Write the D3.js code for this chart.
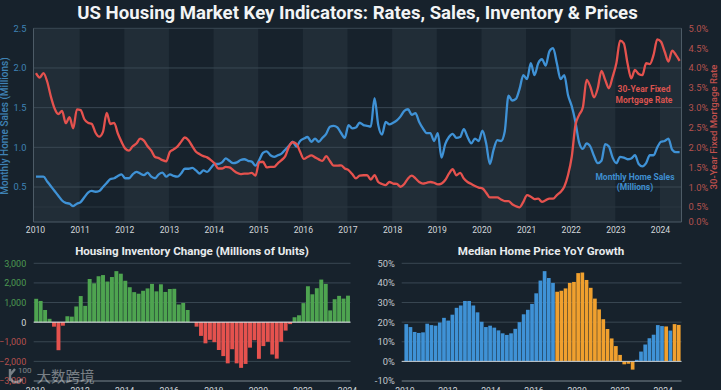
<!DOCTYPE html>
<html>
<head>
<meta charset="utf-8">
<title>US Housing Market Key Indicators</title>
<script src="https://d3js.org/d3.v7.min.js"></script>
<style>
    html, body { margin: 0; padding: 0; width: 721px; height: 390px; overflow: hidden; background: #17222c; }
    svg { display: block; }
    svg text { font-family: Roboto, sans-serif; }
    svg text.cjk { font-family: "Noto Sans CJK SC", sans-serif; }
    .tick line, .domain { display: none; }
</style>
</head>
<body>
<svg id="chart" width="721" height="390"></svg>
<script>
// monthly, Jan 2010 to mid 2024
const homeSales = [
    0.63,0.63,0.63,0.57,0.51,0.45,0.39,0.33,0.30,0.29,0.26,0.29,
    0.31,0.37,0.43,0.45,0.44,0.45,0.50,0.55,0.60,0.61,0.64,0.66,
    0.61,0.61,0.66,0.69,0.67,0.65,0.68,0.63,0.61,0.66,0.68,0.63,
    0.66,0.64,0.63,0.67,0.73,0.73,0.74,0.71,0.67,0.71,0.69,0.74,
    0.79,0.79,0.81,0.86,0.83,0.80,0.81,0.84,0.85,0.83,0.82,0.77,
    0.84,0.93,0.95,0.90,0.88,0.90,0.92,0.97,1.02,1.07,1.01,1.08,
    1.11,1.13,1.07,1.11,1.07,1.12,1.17,1.26,1.27,1.25,1.18,1.12,
    1.28,1.24,1.25,1.31,1.28,1.27,1.26,1.62,1.28,1.16,1.32,1.29,
    1.31,1.34,1.39,1.46,1.48,1.41,1.43,1.32,1.24,1.18,1.18,1.08,
    1.18,0.87,1.04,1.13,1.17,1.12,1.13,1.23,1.13,1.05,1.11,1.08,
    1.21,1.05,0.79,0.97,1.09,1.08,1.20,1.65,1.59,1.61,1.74,1.91,
    1.86,2.06,1.91,2.06,2.11,2.03,2.21,2.25,2.06,1.86,1.91,1.66,
    1.52,1.32,1.06,0.98,1.05,1.01,0.89,0.80,0.83,1.04,1.01,0.87,
    0.80,0.88,0.87,0.85,0.86,0.90,0.79,0.76,0.80,0.90,0.90,1.00,
    1.07,1.08,1.11,0.97,0.94,0.94
];
const mortgageRate = [
    3.87,3.76,3.87,3.66,3.28,2.98,2.84,2.92,2.61,2.76,2.48,2.96,
    2.94,2.71,2.62,2.59,2.37,2.27,2.39,2.87,2.59,2.62,2.35,2.14,
    1.97,1.92,2.03,2.10,2.22,2.17,2.03,1.92,1.76,1.73,1.68,1.65,
    1.89,1.95,2.02,2.14,2.25,2.18,2.03,1.89,1.83,1.78,1.75,1.68,
    1.60,1.47,1.47,1.51,1.50,1.43,1.36,1.33,1.34,1.34,1.36,1.29,
    1.63,1.64,1.50,1.51,1.51,1.60,1.68,1.78,2.02,2.13,2.09,1.89,
    1.71,1.76,1.80,1.75,1.70,1.66,1.78,1.66,1.54,1.54,1.55,1.47,
    1.43,1.33,1.22,1.29,1.30,1.30,1.19,1.30,1.13,1.08,1.05,1.13,
    1.09,1.08,1.01,1.08,1.22,1.29,1.22,1.13,1.09,1.11,1.13,1.11,
    1.07,1.09,1.18,1.34,1.45,1.30,1.36,1.22,1.13,1.08,1.03,0.99,
    0.97,0.86,0.74,0.74,0.74,0.69,0.65,0.65,0.57,0.52,0.49,0.63,
    0.80,0.76,0.70,0.71,0.63,0.67,0.71,0.71,0.80,0.88,1.01,1.30,
    1.76,2.56,2.82,3.01,3.70,3.53,3.26,3.49,3.93,3.70,3.49,3.78,
    4.12,4.69,4.62,4.12,3.74,3.95,3.85,3.82,4.12,4.10,4.33,4.72,
    4.66,4.41,4.16,4.44,4.33,4.18
];
const topYears = ["2010","2011","2012","2013","2014","2015","2016","2017","2018","2019","2020","2021","2022","2023","2024"];
const salesTicks = [0.5, 1.0, 1.5, 2.0, 2.5];
const rateTicks = [0, 0.5, 1, 1.5, 2, 2.5, 3, 3.5, 4, 4.5, 5];

const inventoryChange = [
    1190,1080,620,170,-230,-1430,-180,300,280,800,1330,830,2200,1980,2340,2400,2070,2300,2600,2470,
    2110,1780,1530,1450,1600,1720,1950,1570,1930,1540,1690,1700,900,980,620,0,-230,-700,-1080,-900,
    -1020,-1420,-1730,-2100,-1380,-2100,-2330,-2130,-1300,-920,-1870,-1220,-1000,-1650,-1860,-1000,-430,-100,250,350,
    970,1830,1420,1730,2170,1950,600,1170,1340,1200,1350
];
const inventoryYears = ["2010","2012","2014","2016","2018","2020","2022","2024"];
const inventoryTicks = [-3000, -2000, -1000, 0, 1000, 2000, 3000];

const priceGrowth = [
    19,17.5,15,14.5,14.8,19.2,18.5,18.2,19.8,22.2,20.8,23.8,27.3,28.5,30.8,30.8,28.5,25,20.2,17.5,
    18.2,17.2,15.8,14.3,13.5,14.3,16.6,20,24,26.3,29.3,34.7,41.2,46,42.5,40,
    35.5,36,37.2,40,40.5,45,45.3,41.5,37.5,32,26.5,21.5,16.5,11.7,7.8,3.3,-1.5,-1.2,-4.2,
    0.8,5,8.6,11.8,13.6,18.5,18,17.8,15.7,19,18.6
];
const priceGroup = [
    0,0,0,0,0,0,0,0,0,0,0,0,0,0,0,0,0,0,0,0,0,0,0,0,0,0,0,0,0,0,0,0,0,0,0,0,
    1,1,1,1,1,1,1,1,1,1,1,1,1,1,1,1,1,1,1,
    0,0,0,0,0,0,0,1,0,1,1
];
const priceYears = ["2010","2012","2014","2016","2020","2022","2024"];
const priceTicks = [-10, 0, 10, 20, 30, 40, 50];

const BG_BAND = "#212d37";
const GRID = "#3a4853";
const EDGE = "#4d5b66";
const BLUE = "#3f92d6";
const RED = "#e5524e";
const GREEN = "#4ea450";
const ORANGE = "#f0a02e";

const svg = d3.select("#chart");

svg.append("text")
    .attr("x", 357.5).attr("y", 19)
    .attr("text-anchor", "middle")
    .attr("fill", "#f2f4f5")
    .attr("font-size", 18.6)
    .attr("font-weight", 700)
    .text("US Housing Market Key Indicators: Rates, Sales, Inventory & Prices");

//top chart
const main = { left: 33.5, right: 681.5, top: 28.3, bottom: 222 };
const xMonth = d3.scaleLinear().domain([0, 12 * 14]).range([36, 661]);
const xYear = d3.scalePoint().domain(topYears).range([35, 660]);
const ySales = d3.scaleLinear().domain([0.5, 2.5]).range([187, main.top]);
// the 0% label sits closer to 0.5% than the rest of the axis spacing
const yRate = d3.scaleLinear().domain([0, 0.5, 5]).range([main.bottom, 207, main.top]);

// alternating year bands
const bandEdges = topYears.map((d, i) => i === 0 ? main.left : xYear(d)).concat([main.right]);
svg.append("g").selectAll("rect")
    .data(topYears.filter((d, i) => i % 2 === 0))
    .join("rect")
    .attr("x", d => bandEdges[topYears.indexOf(d)])
    .attr("y", main.top)
    .attr("width", d => bandEdges[topYears.indexOf(d) + 1] - bandEdges[topYears.indexOf(d)])
    .attr("height", main.bottom - main.top)
    .attr("fill", BG_BAND);

svg.append("g").selectAll("line")
    .data(salesTicks)
    .join("line")
    .attr("x1", main.left).attr("x2", main.right)
    .attr("y1", d => ySales(d)).attr("y2", d => ySales(d))
    .attr("stroke", GRID).attr("stroke-width", 1);

svg.append("line")
    .attr("x1", main.left).attr("x2", main.right)
    .attr("y1", yRate(0.5)).attr("y2", yRate(0.5))
    .attr("stroke", "#2a3640");

svg.append("path")
    .attr("d", `M${main.left},${main.top}V${main.bottom}H${main.right}V${main.top}`)
    .attr("fill", "none")
    .attr("stroke", EDGE);

const salesLine = d3.line()
    .x((d, i) => xMonth(i))
    .y(d => ySales(d))
    .curve(d3.curveMonotoneX);
const rateLine = d3.line()
    .x((d, i) => xMonth(i))
    .y(d => yRate(d))
    .curve(d3.curveMonotoneX);

svg.append("path").datum(homeSales)
    .attr("d", salesLine)
    .attr("fill", "none").attr("stroke", BLUE).attr("stroke-width", 2.3);
svg.append("path").datum(mortgageRate)
    .attr("d", rateLine)
    .attr("fill", "none").attr("stroke", RED).attr("stroke-width", 2.3);

const styleAxis = (g, color, size) => {
    g.selectAll("text").attr("fill", color).attr("font-size", size);
};

svg.append("g")
    .attr("transform", `translate(${main.left},0)`)
    .call(d3.axisLeft(ySales).tickValues(salesTicks).tickFormat(d3.format(".1f")).tickSize(0).tickPadding(7))
    .call(styleAxis, "#3f82b5", 9.3);

svg.append("g")
    .attr("transform", `translate(${main.right},0)`)
    .call(d3.axisRight(yRate).tickValues(rateTicks).tickFormat(d => d.toFixed(1) + "%").tickSize(0).tickPadding(7))
    .call(styleAxis, "#b5524f", 9.3);

svg.append("g")
    .attr("transform", `translate(0,${main.bottom})`)
    .call(d3.axisBottom(xYear).tickSize(0).tickPadding(5))
    .call(styleAxis, "#d4d8db", 8.6);

svg.append("text")
    .attr("transform", "translate(8,126) rotate(-90)")
    .attr("text-anchor", "middle")
    .attr("fill", "#3f82b5").attr("font-size", 10).attr("font-weight", 500)
    .text("Monthly Home Sales (Millions)");

svg.append("text")
    .attr("transform", "translate(717,127) rotate(-90)")
    .attr("text-anchor", "middle")
    .attr("fill", "#c2504c").attr("font-size", 9.6).attr("font-weight", 500)
    .text("30-Year Fixed Mortgage Rate");

// in-chart labels
const note = (lines, x, y, color) => {
    svg.append("g").selectAll("text")
        .data(lines)
        .join("text")
        .attr("x", x)
        .attr("y", (d, i) => y + i * 10.7)
        .attr("text-anchor", "middle")
        .attr("fill", color)
        .attr("font-size", 8.5).attr("font-weight", 700)
        .text(d => d);
};
note(["30-Year Fixed", "Mortgage Rate"], 644, 92.3, "#d9534f");
note(["Monthly Home Sales", "(Millions)"], 635, 179.7, "#3f8fd0");

//inventory chart
const inv = { left: 33.7, right: 350.5, top: 263.3, bottom: 381 };
const xInv = d3.scaleBand().domain(d3.range(inventoryChange.length)).range([inv.left, inv.right]).padding(0.12);
const xInvYear = d3.scalePoint().domain(inventoryYears).range([35, 347]);
const yInv = d3.scaleLinear().domain([-3000, 3000]).range([inv.bottom, inv.top]);

svg.append("g").selectAll("line")
    .data(inventoryTicks)
    .join("line")
    .attr("x1", inv.left).attr("x2", inv.right)
    .attr("y1", d => yInv(d)).attr("y2", d => yInv(d))
    .attr("stroke", d => d === -3000 ? "#7a858d" : GRID);

svg.append("g").selectAll("rect")
    .data(inventoryChange)
    .join("rect")
    .attr("x", (d, i) => xInv(i))
    .attr("width", xInv.bandwidth())
    .attr("y", d => yInv(Math.max(d, 0)))
    .attr("height", d => Math.abs(yInv(d) - yInv(0)))
    .attr("fill", d => d >= 0 ? GREEN : RED);

svg.append("line")
    .attr("x1", inv.left).attr("x2", inv.right)
    .attr("y1", yInv(0)).attr("y2", yInv(0))
    .attr("stroke", "#e6e9eb").attr("stroke-width", 1);

svg.append("g")
    .attr("transform", `translate(${inv.left},0)`)
    .call(d3.axisLeft(yInv).tickValues(inventoryTicks).tickFormat(d3.format(",")).tickSize(0).tickPadding(7.5))
    .call(g => g.selectAll("text")
        .attr("font-size", 9)
        .attr("fill", d => d > 0 ? "#4c9a52" : d < 0 ? "#b4504e" : "#d4d8db"));

svg.append("g")
    .attr("transform", `translate(0,${inv.bottom})`)
    .call(d3.axisBottom(xInvYear).tickSize(0).tickPadding(7))
    .call(styleAxis, "#d4d8db", 8.6);

svg.append("text")
    .attr("x", 192).attr("y", 255)
    .attr("text-anchor", "middle")
    .attr("fill", "#e8ebed").attr("font-size", 11.6).attr("font-weight", 700)
    .text("Housing Inventory Change (Millions of Units)");

//price chart
const price = { left: 401.7, right: 681.5, top: 263.3, bottom: 381 };
const xPrice = d3.scaleBand().domain(d3.range(priceGrowth.length)).range([403.9, 681.1]).padding(0.12);
const xPriceYear = d3.scalePoint().domain(priceYears).range([404.3, 662.7]);
const yPrice = d3.scaleLinear().domain([-10, 50]).range([price.bottom, price.top]);

svg.append("g").selectAll("line")
    .data(priceTicks)
    .join("line")
    .attr("x1", price.left).attr("x2", price.right)
    .attr("y1", d => yPrice(d)).attr("y2", d => yPrice(d))
    .attr("stroke", d => d === -10 ? "#7a858d" : GRID);

svg.append("g").selectAll("rect")
    .data(priceGrowth)
    .join("rect")
    .attr("x", (d, i) => xPrice(i))
    .attr("width", xPrice.bandwidth())
    .attr("y", d => yPrice(Math.max(d, 0)))
    .attr("height", d => Math.abs(yPrice(d) - yPrice(0)))
    .attr("fill", (d, i) => priceGroup[i] ? ORANGE : BLUE);

svg.append("line")
    .attr("x1", price.left).attr("x2", price.right)
    .attr("y1", yPrice(0)).attr("y2", yPrice(0))
    .attr("stroke", "#c5ccd1").attr("stroke-width", 1);

svg.append("g")
    .attr("transform", `translate(${price.left},0)`)
    .call(d3.axisLeft(yPrice).tickValues(priceTicks).tickFormat(d => d + "%").tickSize(0).tickPadding(7))
    .call(styleAxis, "#c3c9ce", 9.3);

svg.append("g")
    .attr("transform", `translate(0,${price.bottom})`)
    .call(d3.axisBottom(xPriceYear).tickSize(0).tickPadding(7))
    .call(styleAxis, "#d4d8db", 8.6);

svg.append("text")
    .attr("x", 541).attr("y", 255)
    .attr("text-anchor", "middle")
    .attr("fill", "#e8ebed").attr("font-size", 11.6).attr("font-weight", 700)
    .text("Median Home Price YoY Growth");

// watermark
const mark = svg.append("g").attr("fill", "#ffffff").attr("opacity", 0.42);
mark.append("text")
    .attr("class", "cjk")
    .attr("x", 36.5).attr("y", 381.5)
    .attr("font-size", 14.5)
    .text("大数跨境");
mark.append("text")
    .attr("x", 18).attr("y", 372.5)
    .attr("font-size", 8)
    .text("100");
mark.append("path")
    .attr("d", "M10,369V381M10,378C13,384 19,383 22,379M10,375L15,369")
    .attr("fill", "none").attr("stroke", "#ffffff").attr("stroke-width", 2.4);
</script>
</body>
</html>
